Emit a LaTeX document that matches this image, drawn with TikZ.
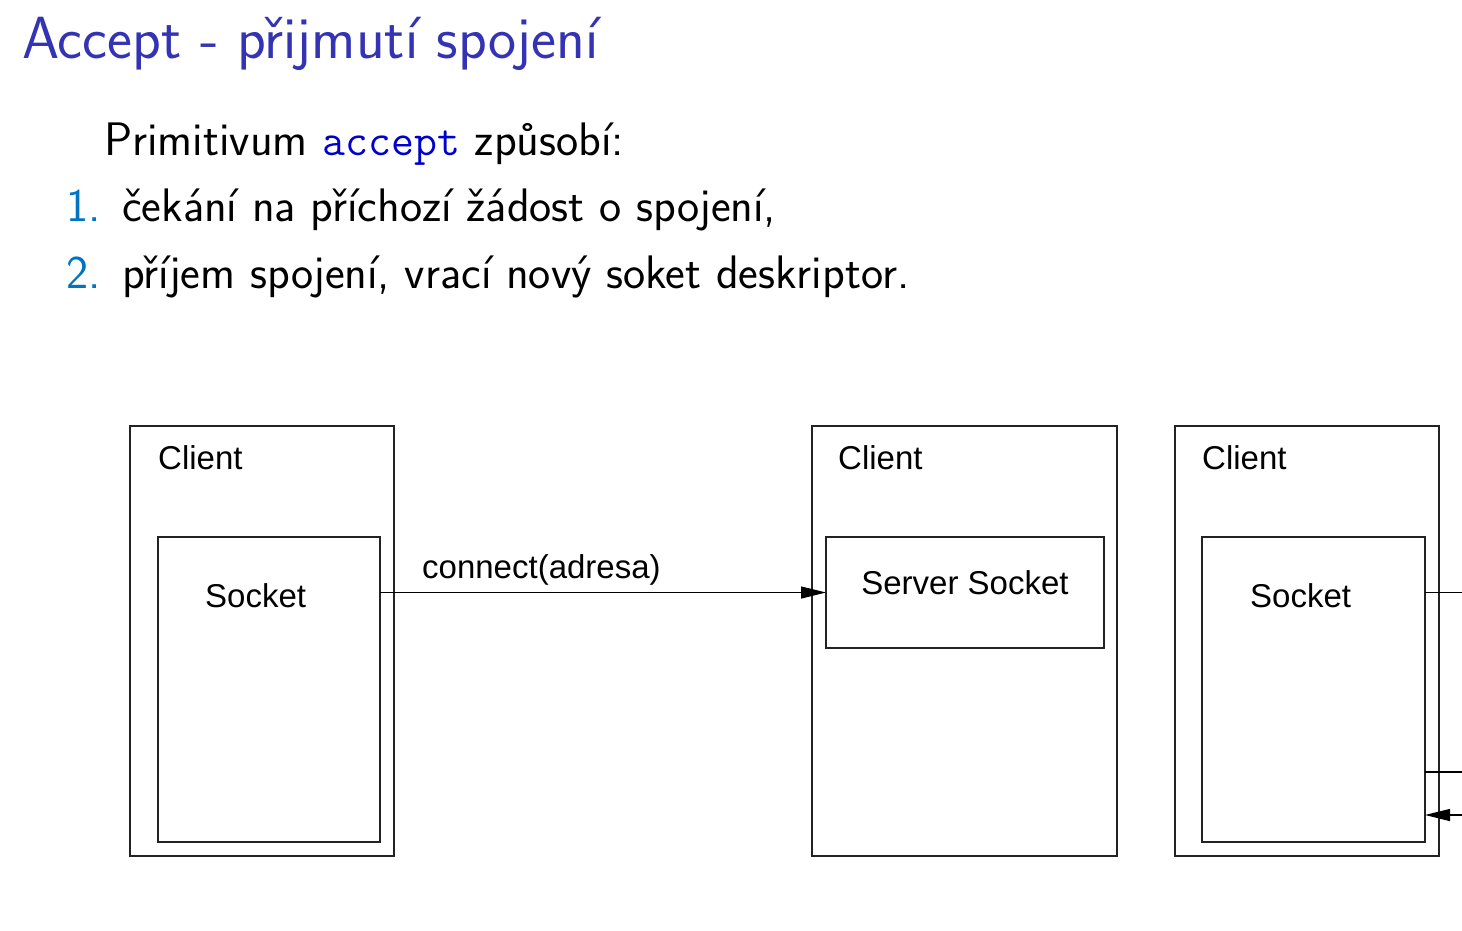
\documentclass[tikz,border=0pt]{standalone}
\usepackage{fontspec}
\newfontfamily\diagfont{Liberation Sans}
\usetikzlibrary{arrows.meta}
\definecolor{titleblue}{RGB}{51,51,179}
\definecolor{codeblue}{RGB}{0,0,204}
\definecolor{numblue}{RGB}{0,115,195}
\definecolor{linegray}{RGB}{35,35,35}
\begin{document}
\begin{tikzpicture}[x=1pt,y=-1pt,
  box/.style={draw=linegray, line width=1.3pt, inner sep=0pt, outer sep=0pt, anchor=north west},
  lbl/.style={inner sep=0pt, anchor=base west, font=\diagfont\fontsize{33}{36}\selectfont},
  bodytxt/.style={inner sep=0pt, anchor=base west, font=\sffamily\fontsize{47}{50}\selectfont},
  conn/.style={draw=black, line width=1.3pt},
  arr/.style={conn, -{Triangle[length=25pt,width=12pt]}}]
\useasboundingbox (0,0) rectangle (1462,930);
% title and text
\node[inner sep=0pt, anchor=base west, text=titleblue, font=\sffamily\fontsize{59.5}{62}\selectfont] (title) at (22,58) {Accept - přijmutí spojení};
\node[bodytxt] (intro) at (104,155) {Primitivum \textcolor{codeblue}{\ttfamily\fontsize{44.5}{50}\selectfont accept} způsobí:};
\node[bodytxt, text=numblue] (n1) at (66,221) {1.};
\node[bodytxt] (t1) at (122,221) {čekání na příchozí žádost o spojení,};
\node[bodytxt, text=numblue] (n2) at (66,288) {2.};
\node[bodytxt] (t2) at (122,288) {příjem spojení, vrací nový soket deskriptor.};
% client 1
\node[box, minimum width=264pt, minimum height=430pt] (c1) at (130,426) {};
\node[lbl] (c1l) at (158,469) {Client};
\node[box, minimum width=222pt, minimum height=305pt] (s1) at (158,537) {};
\node[lbl] (s1l) at (205,607) {Socket};
% client 2
\node[box, minimum width=305pt, minimum height=430pt] (c2) at (812,426) {};
\node[lbl] (c2l) at (838,469) {Client};
\node[box, minimum width=278pt, minimum height=111pt] (ss) at (826,537) {};
\node[lbl, anchor=base] (ssl) at (965,594) {Server Socket};
% client 3
\node[box, minimum width=264pt, minimum height=430pt] (c3) at (1175,426) {};
\node[lbl] (c3l) at (1202,469) {Client};
\node[box, minimum width=223pt, minimum height=305pt] (s3) at (1202,537) {};
\node[lbl] (s3l) at (1250,607) {Socket};
% connectors
\draw[arr] (s1.east |- ss.west) -- (ss.west);
\node[lbl] (conlbl) at (422,578) {connect(adresa)};
\coordinate (r1) at (1462,592.5);
\coordinate (r2) at (1462,772);
\coordinate (r3) at (1462,815);
\draw[conn] (s3.east |- r1) -- (r1);
\draw[conn] (s3.east |- r2) -- (r2);
\draw[arr] (r3) -- (s3.east |- r3);
\end{tikzpicture}
\end{document}
